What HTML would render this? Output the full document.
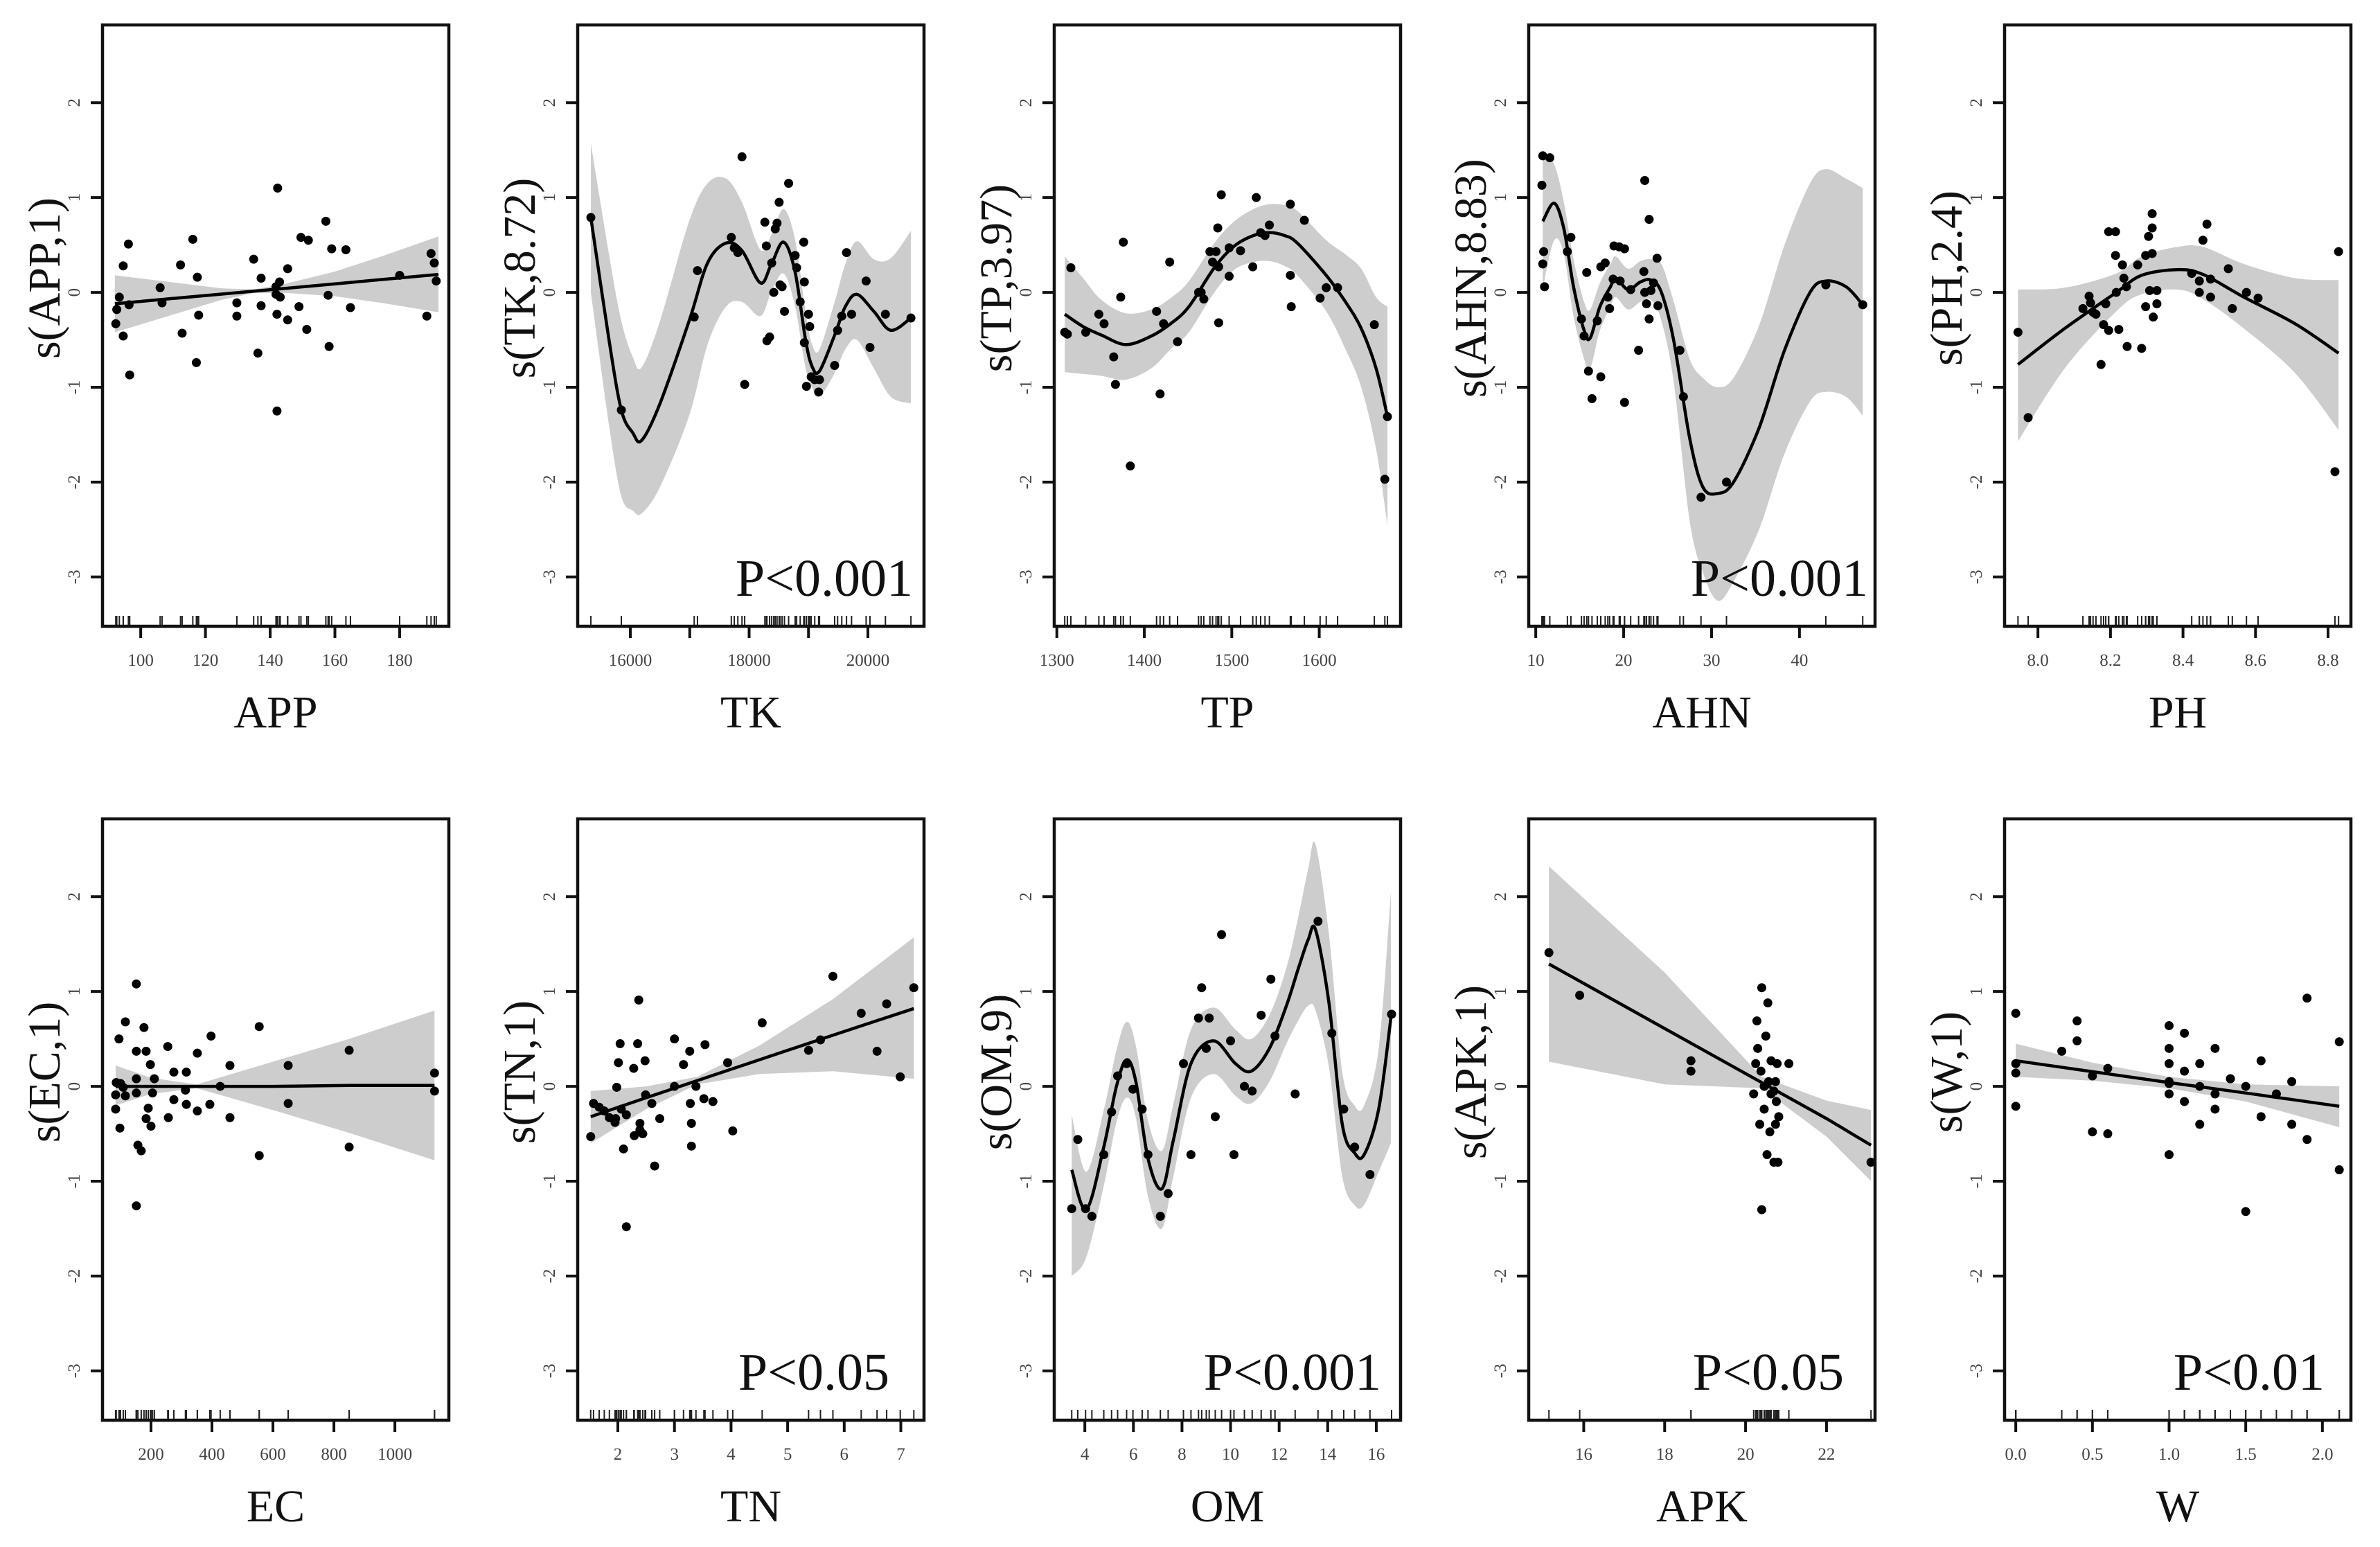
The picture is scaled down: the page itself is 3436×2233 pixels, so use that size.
<!DOCTYPE html>
<html>
<head>
<meta charset="utf-8">
<style>
html,body{margin:0;padding:0;background:#fff;}
svg{display:block;}
text{font-family:"Liberation Serif","Times New Roman",serif;}
</style>
</head>
<body>
<svg id="chart" xmlns="http://www.w3.org/2000/svg" width="3436" height="2233" viewBox="0 0 3436 2233"></svg>
<script>
// ---------- APP ----------
const appX = [92.3,92.6,93.4,94.6,94.6,96.2,96.4,96.6,106,106.6,112.3,112.8,116.1,117.2,117.5,117.9,129.7,129.7,134.9,136.2,137.2,137.2,142.3,142.1,141.8,141.8,142.1,142.9,143.1,145.4,145.4,148.9,149.5,151.8,151.3,157.2,157.9,158.2,159,163.4,164.8,180,188.4,189.7,190.7,191.3];
const appY = [-0.33,-0.18,-0.05,-0.46,0.28,0.51,-0.13,-0.87,0.05,-0.11,0.29,-0.43,0.56,-0.74,0.16,-0.24,-0.11,-0.25,0.35,-0.64,0.15,-0.14,1.10,-1.25,0.06,-0.02,-0.23,0.11,-0.05,0.25,-0.29,-0.15,0.58,0.55,-0.39,0.75,-0.03,-0.57,0.46,0.45,-0.16,0.18,-0.25,0.41,0.31,0.12];
const appFitX = [92,110,125,135,145,160,175,192];
const appFit = [-0.12,-0.064,-0.018,0.013,0.044,0.09,0.137,0.19];
const appUp = [0.18,0.106,0.042,0.033,0.094,0.22,0.387,0.59];
const appLo = [-0.42,-0.234,-0.078,-0.007,-0.006,-0.04,-0.113,-0.21];
const appTicks = [100,120,140,160,180];
const appTickLabels = ["100","120","140","160","180"];
// ---------- TK ----------
const tkX = [15335,15848,17075,17130,17700,17750,17810,17880,17925,18265,18290,18300,18345,18380,18415,18440,18470,18505,18520,18555,18595,18665,18775,18800,18860,18920,18930,18930,18965,19000,19020,19045,19105,19170,19185,19440,19490,19560,19640,19725,19970,20035,20295,20725];
const tkY = [0.79,-1.24,-0.26,0.23,0.58,0.47,0.42,1.43,-0.97,0.74,0.49,-0.51,-0.47,0.31,0.0,0.67,0.73,0.95,0.08,0.06,-0.2,1.15,0.39,0.26,-0.1,0.53,0.11,-0.53,-0.99,-0.23,-0.36,-0.89,-0.92,-1.05,-0.92,-0.77,-0.4,-0.25,0.42,-0.23,0.12,-0.58,-0.23,-0.27];
const tkFitX = [15335,15640,15848,16040,16190,16500,16990,17300,17610,17880,18190,18370,18580,18775,18950,19060,19185,19440,19620,19815,20100,20385,20725];
const tkFit = [0.79,-0.5,-1.24,-1.48,-1.56,-1.17,-0.3,0.31,0.52,0.44,0.1,0.29,0.53,0.21,-0.5,-0.78,-0.83,-0.45,-0.15,-0.02,-0.2,-0.4,-0.27];
const tkUp = [1.57,0.4,-0.3,-0.68,-0.79,-0.3,0.75,1.15,1.2,0.95,0.45,0.6,0.88,0.55,-0.2,-0.55,-0.6,-0.1,0.3,0.54,0.35,0.36,0.65];
const tkLo = [0.0,-1.4,-2.15,-2.3,-2.33,-2.05,-1.3,-0.55,-0.15,-0.1,-0.25,0.0,0.2,-0.15,-0.8,-1.0,-1.1,-0.85,-0.6,-0.5,-0.8,-1.1,-1.17];
const tkTicks = [16000,17000,18000,19000,20000];
const tkTickLabels = ["16000","","18000","","20000"];
// ---------- TP ----------
const tpX = [1309,1312,1316,1333,1348,1354,1365,1367,1373,1376,1384,1414,1418,1422,1429,1438,1462,1465,1468,1475,1478,1482,1484,1485,1485,1488,1497,1497,1510,1524,1528,1533,1538,1543,1567,1567,1568,1583,1601,1608,1621,1663,1675,1678];
const tpY = [-0.42,-0.44,0.26,-0.42,-0.23,-0.33,-0.68,-0.97,-0.05,0.53,-1.83,-0.2,-1.07,-0.33,0.32,-0.52,0.0,0.0,-0.07,0.43,0.32,0.43,0.68,0.27,-0.32,1.03,0.17,0.47,0.44,0.27,1.0,0.63,0.6,0.71,0.93,0.18,-0.15,0.76,-0.06,0.05,0.05,-0.34,-1.97,-1.31];
const tpFitX = [1309,1330,1351,1379,1408,1430,1451,1480,1503,1525,1543,1560,1575,1608,1630,1648,1665,1678];
const tpFit = [-0.23,-0.36,-0.45,-0.55,-0.46,-0.33,-0.15,0.26,0.49,0.6,0.63,0.6,0.52,0.18,-0.1,-0.38,-0.8,-1.31];
const tpUp = [0.38,0.15,-0.08,-0.22,-0.18,-0.06,0.12,0.52,0.75,0.88,0.93,0.92,0.86,0.55,0.4,0.25,-0.05,-0.15];
const tpLo = [-0.84,-0.86,-0.88,-0.92,-0.8,-0.6,-0.42,0.0,0.24,0.32,0.33,0.28,0.18,-0.2,-0.6,-1.0,-1.65,-2.45];
const tpTicks = [1300,1400,1500,1600];
const tpTickLabels = ["1300","1400","1500","1600"];
// ---------- AHN ----------
const ahnX = [10.7,10.8,11.6,10.8,10.9,11.0,13.6,14.0,15.2,15.5,16.0,15.8,16.4,17.0,17.4,17.4,17.9,18.2,18.4,18.8,18.9,19.5,20.1,20.1,19.6,20.8,21.7,22.3,22.4,22.4,22.6,22.9,22.9,23.1,23.4,23.8,23.9,26.4,26.8,28.8,31.7,43.0,47.2];
const ahnY = [1.13,1.44,1.42,0.3,0.43,0.06,0.43,0.58,-0.28,-0.46,-0.83,0.21,-1.12,-0.3,-0.89,0.27,0.31,-0.05,-0.17,0.14,0.49,0.48,0.46,-1.16,0.12,0.03,-0.61,0.22,1.18,0.0,-0.12,0.77,-0.28,0.02,0.1,0.36,-0.14,-0.61,-1.1,-2.16,-2.0,0.08,-0.13];
const ahnFitX = [10.8,12.1,13.2,14.3,15.5,16.2,17.3,18.5,19.1,20.5,21.9,23.1,24.3,25.7,27.5,29,30.7,32.5,35.4,38.3,41.2,43,45.3,47.2];
const ahnFit = [0.75,0.94,0.67,0.06,-0.4,-0.48,-0.15,0.06,0.15,0.03,0.11,0.13,0.0,-0.51,-1.53,-2.05,-2.12,-2.0,-1.43,-0.61,0.0,0.12,0.06,-0.13];
const ahnUp = [1.5,1.35,0.95,0.35,-0.1,-0.18,0.1,0.3,0.38,0.25,0.33,0.35,0.3,-0.1,-0.7,-0.9,-1.0,-0.9,-0.35,0.5,1.15,1.3,1.2,1.1];
const ahnLo = [0.05,0.55,0.4,-0.25,-0.7,-0.8,-0.4,-0.15,-0.05,-0.18,-0.1,-0.08,-0.3,-0.95,-2.4,-2.95,-3.25,-3.05,-2.5,-1.7,-1.15,-1.05,-1.1,-1.3];
const ahnTicks = [10,20,30,40];
const ahnTickLabels = ["10","20","30","40"];
// ---------- PH ----------
const phX = [7.945,7.973,8.124,8.141,8.145,8.152,8.160,8.174,8.181,8.187,8.195,8.195,8.214,8.214,8.216,8.223,8.233,8.237,8.244,8.246,8.275,8.286,8.297,8.297,8.305,8.308,8.315,8.315,8.315,8.318,8.328,8.328,8.424,8.445,8.445,8.455,8.466,8.476,8.476,8.525,8.536,8.575,8.607,8.819,8.829];
const phY = [-0.42,-1.32,-0.17,-0.04,-0.11,-0.21,-0.23,-0.76,-0.34,-0.12,-0.4,0.64,0.64,0.39,0.0,-0.39,0.29,0.15,0.06,-0.57,0.29,-0.59,0.39,-0.15,0.59,0.02,0.83,0.68,0.41,-0.26,0.02,-0.12,0.2,0.12,0.0,0.55,0.72,0.14,-0.05,0.25,-0.17,0.0,-0.06,-1.89,0.43];
const phFitX = [7.945,8.074,8.216,8.286,8.384,8.455,8.568,8.709,8.829];
const phFit = [-0.76,-0.38,0.0,0.18,0.24,0.19,-0.05,-0.33,-0.64];
const phUp = [0.03,0.05,0.2,0.38,0.48,0.48,0.3,0.15,0.13];
const phLo = [-1.57,-0.8,-0.2,-0.02,0.03,-0.07,-0.38,-0.85,-1.45];
const phTicks = [8.0,8.2,8.4,8.6,8.8];
const phTickLabels = ["8.0","8.2","8.4","8.6","8.8"];
// ---------- EC ----------
const ecX = [84,84,86,95,98,100,109,116,116,152,152,152,152,152,157,168,177,184,184,191,198,200,205,211,255,257,275,275,313,316,316,352,352,393,397,427,459,459,555,555,650,650,850,850,1130,1130];
const ecY = [-0.24,-0.09,0.04,0.5,-0.44,0.03,-0.01,-0.1,0.68,1.08,0.37,0.08,-0.07,-1.26,-0.62,-0.68,0.62,0.37,-0.34,-0.23,0.23,-0.42,-0.07,0.08,0.42,-0.33,0.15,-0.14,-0.04,0.15,-0.19,0.35,-0.26,-0.19,0.53,0.0,0.22,-0.33,0.63,-0.73,0.22,-0.18,0.38,-0.64,0.14,-0.05];
const ecFitX = [84,200,350,600,850,1130];
const ecFit = [0.0,0.0,0.0,0.0,0.01,0.01];
const ecUp = [0.22,0.09,0.02,0.26,0.5,0.8];
const ecLo = [-0.2,-0.08,-0.02,-0.25,-0.49,-0.78];
const ecTicks = [200,400,600,800,1000];
const ecTickLabels = ["200","400","600","800","1000"];
// ---------- TN ----------
const tnX = [1.52,1.57,1.67,1.76,1.85,1.95,1.96,1.98,2.01,2.04,2.06,2.1,2.15,2.15,2.28,2.29,2.35,2.37,2.39,2.39,2.44,2.48,2.49,2.6,2.65,2.74,3.0,3.0,3.16,3.27,3.28,3.3,3.3,3.38,3.52,3.54,3.68,3.94,4.03,4.55,5.37,5.58,5.8,6.3,6.58,6.75,6.99,7.23];
const tnY = [-0.53,-0.18,-0.22,-0.26,-0.33,-0.38,-0.34,-0.01,0.25,0.45,-0.24,-0.66,-1.48,-0.3,0.19,-0.52,0.45,0.91,-0.39,-0.46,-0.5,0.27,-0.09,-0.18,-0.84,-0.34,0.5,0.0,0.23,0.37,-0.18,-0.39,-0.63,0.0,-0.13,0.44,-0.16,0.25,-0.47,0.67,0.38,0.49,1.16,0.77,0.37,0.87,0.10,1.04];
const tnFitX = [1.52,2.5,3.4,4.5,5.8,7.23];
const tnFit = [-0.32,-0.12,0.06,0.28,0.54,0.82];
const tnUp = [-0.05,0.0,0.10,0.43,0.92,1.57];
const tnLo = [-0.6,-0.24,0.02,0.13,0.16,0.08];
const tnTicks = [2,3,4,5,6,7];
const tnTickLabels = ["2","3","4","5","6","7"];
// ---------- OM ----------
const omX = [3.46,3.71,4.03,4.29,4.78,5.1,5.35,5.72,5.98,6.36,6.6,7.11,7.43,8.06,8.37,8.68,8.81,9.0,9.12,9.37,9.63,10.0,10.14,10.57,10.89,11.26,11.66,11.83,12.66,13.6,14.17,14.66,15.11,15.74,16.63];
const omY = [-1.29,-0.56,-1.29,-1.37,-0.72,-0.27,0.11,0.24,-0.03,-0.24,-0.72,-1.37,-1.13,0.24,-0.72,0.72,1.04,0.4,0.72,-0.32,1.6,0.48,-0.72,0.0,-0.05,0.75,1.13,0.53,-0.08,1.74,0.56,-0.24,-0.64,-0.93,0.76];
const omFitX = [3.46,4.06,4.78,5.3,5.72,6.1,6.6,7.17,7.65,8.37,9.3,10.2,10.85,11.6,12.3,12.8,13.2,13.5,14.05,14.6,15.1,15.5,16.1,16.6];
const omFit = [-0.88,-1.3,-0.64,0.0,0.28,0.05,-0.76,-1.08,-0.56,0.24,0.48,0.24,0.16,0.4,0.85,1.25,1.55,1.65,0.88,-0.4,-0.7,-0.72,-0.24,0.72];
const omUp = [-0.3,-0.9,-0.25,0.38,0.68,0.43,-0.36,-0.68,-0.18,0.6,0.83,0.6,0.5,0.75,1.25,1.8,2.3,2.55,1.6,0.15,-0.2,-0.2,0.4,2.05];
const omLo = [-2.0,-1.8,-1.05,-0.38,-0.12,-0.33,-1.16,-1.5,-0.94,-0.12,0.13,-0.1,-0.18,0.05,0.45,0.7,0.85,0.8,0.2,-0.95,-1.25,-1.25,-0.9,-0.6];
const omTicks = [4,6,8,10,12,14,16];
const omTickLabels = ["4","6","8","10","12","14","16"];
// ---------- APK ----------
const apkX = [15.14,15.9,18.65,18.65,20.2,20.25,20.28,20.3,20.35,20.4,20.38,20.4,20.46,20.46,20.5,20.53,20.55,20.57,20.6,20.63,20.63,20.7,20.7,20.74,20.76,20.78,20.8,20.82,20.74,21.07,23.1];
const apkY = [1.41,0.96,0.27,0.16,-0.08,0.24,0.69,0.4,-0.4,1.04,0.16,-1.3,0.0,-0.24,0.53,-0.72,0.88,0.05,-0.48,-0.08,0.27,-0.8,-0.05,0.05,-0.16,0.24,-0.8,-0.32,-0.4,0.24,-0.8];
const apkFitX = [15.14,18,20.4,22,23.1];
const apkFit = [1.29,0.61,0.04,-0.34,-0.62];
const apkUp = [2.32,1.2,0.1,-0.15,-0.25];
const apkLo = [0.26,0.02,-0.02,-0.53,-1.0];
const apkTicks = [16,18,20,22];
const apkTickLabels = ["16","18","20","22"];
// ---------- W ----------
const wX = [0.0,0.0,0.0,0.0,0.3,0.4,0.4,0.5,0.6,0.5,0.6,1.0,1.0,1.0,1.0,1.0,1.0,1.0,1.1,1.1,1.2,1.1,1.2,1.2,1.3,1.3,1.3,1.4,1.4,1.5,1.5,1.6,1.6,1.7,1.8,1.8,1.9,1.9,2.11,2.11];
const wY = [0.77,0.24,0.14,-0.21,0.37,0.69,0.48,0.11,0.19,-0.48,-0.5,0.4,0.03,-0.08,-0.72,0.64,0.24,0.05,0.16,-0.16,-0.4,0.56,0.24,0.0,-0.08,0.4,-0.24,0.08,0.08,0.0,-1.32,-0.32,0.27,-0.08,-0.4,0.05,-0.56,0.93,-0.88,0.47];
const wFitX = [0.0,0.5,1.0,1.5,2.11];
const wFit = [0.27,0.155,0.04,-0.07,-0.21];
const wUp = [0.45,0.25,0.1,0.02,0.0];
const wLo = [0.1,0.06,-0.02,-0.16,-0.43];
const wTicks = [0.0,0.5,1.0,1.5,2.0];
const wTickLabels = ["0.0","0.5","1.0","1.5","2.0"];
// shared y axis
const yTicks = [-3,-2,-1,0,1,2];
const yTickLabels = ["-3","-2","-1","0","1","2"];
const yDomain = [-3.52, 2.82];

const panels = [
 {key:'app',name:'APP',title:'s(APP,1)',col:0,row:0,dom:[88.2,195.2],x:appX,y:appY,fx:appFitX,f:appFit,up:appUp,lo:appLo,ticks:appTicks,tl:appTickLabels,smooth:false,p:null},
 {key:'tk',name:'TK',title:'s(TK,8.72)',col:1,row:0,dom:[15113,20945],x:tkX,y:tkY,fx:tkFitX,f:tkFit,up:tkUp,lo:tkLo,ticks:tkTicks,tl:tkTickLabels,smooth:true,p:'P<0.001',pInset:16},
 {key:'tp',name:'TP',title:'s(TP,3.97)',col:2,row:0,dom:[1297,1693],x:tpX,y:tpY,fx:tpFitX,f:tpFit,up:tpUp,lo:tpLo,ticks:tpTicks,tl:tpTickLabels,smooth:true,p:null},
 {key:'ahn',name:'AHN',title:'s(AHN,8.83)',col:3,row:0,dom:[9.2,48.6],x:ahnX,y:ahnY,fx:ahnFitX,f:ahnFit,up:ahnUp,lo:ahnLo,ticks:ahnTicks,tl:ahnTickLabels,smooth:true,p:'P<0.001',pInset:10},
 {key:'ph',name:'PH',title:'s(PH,2.4)',col:4,row:0,dom:[7.908,8.863],x:phX,y:phY,fx:phFitX,f:phFit,up:phUp,lo:phLo,ticks:phTicks,tl:phTickLabels,smooth:true,p:null},
 {key:'ec',name:'EC',title:'s(EC,1)',col:0,row:1,dom:[41,1177],x:ecX,y:ecY,fx:ecFitX,f:ecFit,up:ecUp,lo:ecLo,ticks:ecTicks,tl:ecTickLabels,smooth:false,p:null},
 {key:'tn',name:'TN',title:'s(TN,1)',col:1,row:1,dom:[1.29,7.41],x:tnX,y:tnY,fx:tnFitX,f:tnFit,up:tnUp,lo:tnLo,ticks:tnTicks,tl:tnTickLabels,smooth:false,p:'P<0.05',pInset:50},
 {key:'om',name:'OM',title:'s(OM,9)',col:2,row:1,dom:[2.74,17.0],x:omX,y:omY,fx:omFitX,f:omFit,up:omUp,lo:omLo,ticks:omTicks,tl:omTickLabels,smooth:true,p:'P<0.001',pInset:28},
 {key:'apk',name:'APK',title:'s(APK,1)',col:3,row:1,dom:[14.64,23.2],x:apkX,y:apkY,fx:apkFitX,f:apkFit,up:apkUp,lo:apkLo,ticks:apkTicks,tl:apkTickLabels,smooth:false,p:'P<0.05',pInset:45},
 {key:'w',name:'W',title:'s(W,1)',col:4,row:1,dom:[-0.073,2.186],x:wX,y:wY,fx:wFitX,f:wFit,up:wUp,lo:wLo,ticks:wTicks,tl:wTickLabels,smooth:false,p:'P<0.01',pInset:38}
];

const lefts = [148,834,1522,2207,2894];
const tops = [36,1182];
const PW = 500, PH_ = 868;
const NS = 'http://www.w3.org/2000/svg';
const svg = document.getElementById('chart');

function mk(tag, attrs, parent){
  const e = document.createElementNS(NS, tag);
  for (const k in attrs) e.setAttribute(k, attrs[k]);
  parent.appendChild(e);
  return e;
}
function catmull(pts, start){
  let d = (start ? 'M' : 'L') + pts[0][0].toFixed(1) + ',' + pts[0][1].toFixed(1);
  for (let i = 0; i < pts.length - 1; i++){
    const p0 = pts[Math.max(0,i-1)], p1 = pts[i], p2 = pts[i+1], p3 = pts[Math.min(pts.length-1,i+2)];
    const c1x = p1[0] + (p2[0]-p0[0])/6, c1y = p1[1] + (p2[1]-p0[1])/6;
    const c2x = p2[0] - (p3[0]-p1[0])/6, c2y = p2[1] - (p3[1]-p1[1])/6;
    d += 'C' + c1x.toFixed(1)+','+c1y.toFixed(1)+' '+c2x.toFixed(1)+','+c2y.toFixed(1)+' '+p2[0].toFixed(1)+','+p2[1].toFixed(1);
  }
  return d;
}
function lin(pts, start){
  return pts.map((p,i)=>((i===0 && start)?'M':'L')+p[0].toFixed(1)+','+p[1].toFixed(1)).join('');
}

panels.forEach(function(P){
  const L = lefts[P.col], T = tops[P.row], B = T + PH_, R = L + PW;
  const sx = v => L + (v - P.dom[0]) / (P.dom[1] - P.dom[0]) * PW;
  const sy = v => B - (v - yDomain[0]) / (yDomain[1] - yDomain[0]) * PH_;
  const g = mk('g', {}, svg);
  
  

  const clip = mk('clipPath', {id:'clip-'+P.key}, g);
  mk('rect', {x:L, y:T, width:PW, height:PH_}, clip);

  const draw = P.smooth ? catmull : lin;
  const upPts = P.fx.map((v,i)=>[sx(v), sy(P.up[i])]);
  const loPts = P.fx.map((v,i)=>[sx(v), sy(P.lo[i])]).reverse();
  const band = mk('path', {d: draw(upPts,true) + draw(loPts,false) + 'Z', fill:'#cdcdcd', stroke:'none', 'clip-path':'url(#clip-'+P.key+')'}, g);
  
  

  const rug = mk('g', {stroke:'#222', 'stroke-width':2}, g);
  
  
  P.x.forEach(function(v){
    const rx = sx(v);
    mk('line', {x1:rx, x2:rx, y1:B, y2:B-15}, rug);
  });

  const fitPts = P.fx.map((v,i)=>[sx(v), sy(P.f[i])]);
  const fit = mk('path', {d: draw(fitPts,true), fill:'none', stroke:'#000', 'stroke-width':4.5, 'stroke-linejoin':'round'}, g);
  
  

  const pts = mk('g', {fill:'#000'}, g);
  
  
  P.x.forEach(function(v,i){
    const c = mk('circle', {cx:sx(v), cy:sy(P.y[i]), r:6.5}, pts);
    
    
  });

  const box = mk('rect', {x:L, y:T, width:PW, height:PH_, fill:'none', stroke:'#111', 'stroke-width':4.5}, g);
  
  

  const xa = mk('g', {}, g);
  
  
  P.ticks.forEach(function(v,i){
    const tx = sx(v);
    mk('line', {x1:tx, x2:tx, y1:B, y2:B+17, stroke:'#111', 'stroke-width':4}, xa);
    if (P.tl[i]) {
      const t = mk('text', {x:tx, y:B+57, 'text-anchor':'middle', 'font-size':25, fill:'#444'}, xa);
      t.textContent = P.tl[i];
      
      
    }
  });

  const ya = mk('g', {}, g);
  
  
  yTicks.forEach(function(v,i){
    const ty = sy(v);
    mk('line', {x1:L-17, x2:L, y1:ty, y2:ty, stroke:'#111', 'stroke-width':4}, ya);
    const t = mk('text', {transform:'translate('+(L-33)+','+ty+') rotate(-90)', 'text-anchor':'middle', 'font-size':25, fill:'#444'}, ya);
    t.textContent = yTickLabels[i];
    
    
  });

  const xt = mk('text', {x:(L+R)/2, y:B+146, 'text-anchor':'middle', 'font-size':66, fill:'#111'}, g);
  xt.textContent = P.name;
  
  

  const yt = mk('text', {transform:'translate('+(L-62)+','+sy(0.15)+') rotate(-90)', 'text-anchor':'middle', 'font-size':66, fill:'#111'}, g);
  yt.textContent = P.title;
  
  

  if (P.p) {
    const pt = mk('text', {x:R-P.pInset, y:B-44, 'text-anchor':'end', 'font-size':76, fill:'#111'}, g);
    pt.textContent = P.p;
    
    
  }
});
</script>
</body>
</html>
